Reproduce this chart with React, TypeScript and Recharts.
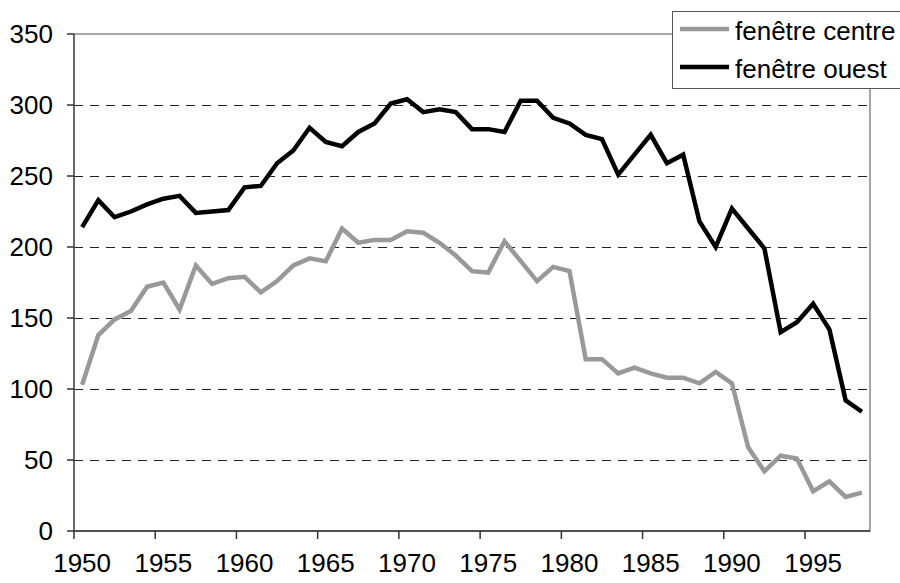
import { LineChart, Line, XAxis, YAxis, ReferenceLine, ReferenceArea, Legend } from "recharts";

const years = [
    1950, 1951, 1952, 1953, 1954, 1955, 1956, 1957, 1958, 1959,
    1960, 1961, 1962, 1963, 1964, 1965, 1966, 1967, 1968, 1969,
    1970, 1971, 1972, 1973, 1974, 1975, 1976, 1977, 1978, 1979,
    1980, 1981, 1982, 1983, 1984, 1985, 1986, 1987, 1988, 1989,
    1990, 1991, 1992, 1993, 1994, 1995, 1996, 1997, 1998,
];

const fenetreCentre = [
    103, 138, 149, 155, 172, 175, 156, 187, 174, 178,
    179, 168, 176, 187, 192, 190, 213, 203, 205, 205,
    211, 210, 203, 194, 183, 182, 204, 190, 176, 186,
    183, 121, 121, 111, 115, 111, 108, 108, 104, 112,
    104, 59, 42, 53, 51, 28, 35, 24, 27,
];

const fenetreOuest = [
    214, 233, 221, 225, 230, 234, 236, 224, 225, 226,
    242, 243, 259, 268, 284, 274, 271, 281, 287, 301,
    304, 295, 297, 295, 283, 283, 281, 303, 303, 291,
    287, 279, 276, 251, 265, 279, 259, 265, 218, 200,
    227, 213, 199, 140, 147, 160, 142, 92, 84,
];

const yTicks = [0, 50, 100, 150, 200, 250, 300, 350];
const gridValues = [50, 100, 150, 200, 250, 300];

const FONT = "Arial, 'Liberation Sans', sans-serif";
const FS = 26;
const W = 900;
const H = 583;
const M = { top: 34, right: 30, left: 0, bottom: 0 };
const Y_W = 74;
const BAND = (W - Y_W - M.right) / years.length;

const data = years.map((y, i) => ({ year: y, centre: fenetreCentre[i], ouest: fenetreOuest[i] }));

// ticks every 5 years, tick mark on the left boundary of the category
const XTick = (props: any) => {
    const { x, y, payload } = props;
    const yr = Number(payload.value);
    if (yr % 5 !== 0) return <g />;
    const left = x - BAND / 2;
    return (
        <g>
            <line x1={left} x2={left} y1={y} y2={y + 8} stroke="#333" strokeWidth={1.5} />
            <text x={x} y={y + 23} dy="0.71em" textAnchor="middle" fontFamily={FONT} fontSize={FS} fill="#000">
                {yr}
            </text>
        </g>
    );
};

const LegendBox = (props: any) => {
    const { payload } = props;
    return (
        <div style={{ width: 240, height: 78, border: "1px solid #555", background: "#fff", boxSizing: "border-box", paddingTop: 0 }}>
            {payload.map((p: any) => (
                <div key={p.value} style={{ display: "flex", alignItems: "center", height: 38 }}>
                    <svg width={62} height={12} style={{ flex: "none" }}>
                        <line x1={7} x2={56} y1={4} y2={4} stroke={p.color} strokeWidth={4.5} />
                    </svg>
                    <span style={{ fontFamily: FONT, fontSize: FS, lineHeight: "30px", color: "#000", whiteSpace: "nowrap" }}>{p.value}</span>
                </div>
            ))}
        </div>
    );
};

export default function App() {
    return (
        <div style={{ position: "absolute", left: 0, top: 0, width: W, height: H, background: "#fff" }}>
            <LineChart width={W} height={H} data={data} margin={M}>
                <ReferenceArea y1={0} y2={350} stroke="#8a8a8a" strokeWidth={1.5} fill="none" fillOpacity={0} />
                {gridValues.map((v) => (
                    <ReferenceLine key={v} y={v} stroke="#222" strokeDasharray="9 7" strokeWidth={1} shapeRendering="crispEdges" />
                ))}
                <XAxis
                    dataKey="year"
                    type="category"
                    scale="band"
                    interval={0}
                    height={H - 531}
                    tickSize={0}
                    tickMargin={0}
                    tickLine={false}
                    axisLine={{ stroke: "#333", strokeWidth: 1.5 }}
                    tick={<XTick />}
                />
                <YAxis
                    width={Y_W}
                    domain={[0, 350]}
                    ticks={yTicks}
                    interval={0}
                    tickSize={7}
                    tickMargin={14}
                    tickLine={{ stroke: "#333", strokeWidth: 1.5 }}
                    axisLine={{ stroke: "#555", strokeWidth: 1.5 }}
                    tick={{ fontFamily: FONT, fontSize: FS, fill: "#000" }}
                />
                <Legend
                    layout="vertical"
                    align="center"
                    verticalAlign="middle"
                    content={<LegendBox />}
                    wrapperStyle={{ left: 672, top: 11, width: 240, height: 78 }}
                />
                <Line dataKey="centre" name="fenêtre centre" stroke="#999" strokeWidth={4.5} dot={false} isAnimationActive={false} strokeLinejoin="miter" />
                <Line dataKey="ouest" name="fenêtre ouest" stroke="#000" strokeWidth={4.5} dot={false} isAnimationActive={false} strokeLinejoin="miter" />
            </LineChart>
        </div>
    );
}
